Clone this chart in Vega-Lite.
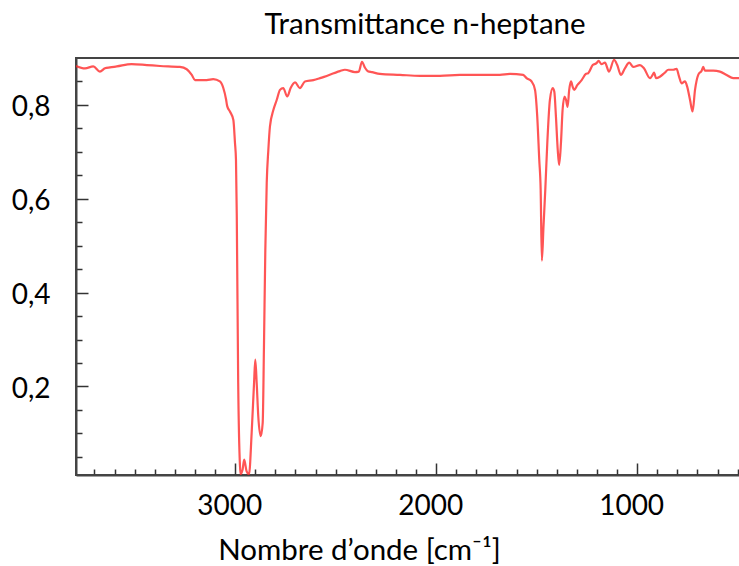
{
  "$schema": "https://vega.github.io/schema/vega-lite/v6.json",
  "width": 698,
  "height": 417,
  "autosize": {"type": "none"},
  "padding": {"left": 76, "top": 58, "right": 0, "bottom": 91},
  "background": "white",
  "title": {"text": "Transmittance n-heptane", "anchor": "middle", "font": "Lato", "fontSize": 29.5, "fontWeight": "normal", "color": "#000000", "baseline": "alphabetic", "offset": -5},
  "config": {
    "view": {"stroke": "#444444", "strokeWidth": 2},
    "font": "Lato"
  },
  "data": {"values": [
    {"wn": 3792, "t": 0.883}, {"wn": 3747, "t": 0.878}, {"wn": 3706, "t": 0.882}, {"wn": 3673, "t": 0.871},
    {"wn": 3648, "t": 0.878}, {"wn": 3623, "t": 0.880}, {"wn": 3589, "t": 0.882}, {"wn": 3515, "t": 0.887},
    {"wn": 3440, "t": 0.885}, {"wn": 3374, "t": 0.883}, {"wn": 3275, "t": 0.881}, {"wn": 3241, "t": 0.876},
    {"wn": 3216, "t": 0.864}, {"wn": 3200, "t": 0.853}, {"wn": 3142, "t": 0.853}, {"wn": 3109, "t": 0.855},
    {"wn": 3076, "t": 0.850}, {"wn": 3059, "t": 0.836}, {"wn": 3045, "t": 0.811}, {"wn": 3040, "t": 0.798},
    {"wn": 3026, "t": 0.786}, {"wn": 3009, "t": 0.768}, {"wn": 3001, "t": 0.719}, {"wn": 2996, "t": 0.683},
    {"wn": 2992, "t": 0.562}, {"wn": 2985, "t": 0.208}, {"wn": 2976, "t": 0.030}, {"wn": 2973, "t": 0.013},
    {"wn": 2963, "t": 0.023}, {"wn": 2955, "t": 0.044}, {"wn": 2943, "t": 0.019}, {"wn": 2931, "t": 0.013},
    {"wn": 2918, "t": 0.101}, {"wn": 2906, "t": 0.208}, {"wn": 2900, "t": 0.257}, {"wn": 2893, "t": 0.208},
    {"wn": 2885, "t": 0.136}, {"wn": 2873, "t": 0.094}, {"wn": 2863, "t": 0.123}, {"wn": 2857, "t": 0.278},
    {"wn": 2850, "t": 0.491}, {"wn": 2843, "t": 0.634}, {"wn": 2835, "t": 0.704}, {"wn": 2827, "t": 0.754},
    {"wn": 2810, "t": 0.789}, {"wn": 2793, "t": 0.811}, {"wn": 2777, "t": 0.832}, {"wn": 2761, "t": 0.836},
    {"wn": 2741, "t": 0.818}, {"wn": 2724, "t": 0.836}, {"wn": 2702, "t": 0.848}, {"wn": 2678, "t": 0.836},
    {"wn": 2653, "t": 0.850}, {"wn": 2611, "t": 0.853}, {"wn": 2578, "t": 0.857}, {"wn": 2479, "t": 0.872},
    {"wn": 2454, "t": 0.875}, {"wn": 2404, "t": 0.870}, {"wn": 2385, "t": 0.871}, {"wn": 2369, "t": 0.892},
    {"wn": 2355, "t": 0.880}, {"wn": 2340, "t": 0.872}, {"wn": 2319, "t": 0.870}, {"wn": 2280, "t": 0.866},
    {"wn": 2180, "t": 0.864}, {"wn": 2081, "t": 0.862}, {"wn": 1981, "t": 0.862}, {"wn": 1882, "t": 0.864},
    {"wn": 1782, "t": 0.864}, {"wn": 1683, "t": 0.864}, {"wn": 1633, "t": 0.866}, {"wn": 1567, "t": 0.864},
    {"wn": 1550, "t": 0.857}, {"wn": 1525, "t": 0.850}, {"wn": 1508, "t": 0.832}, {"wn": 1497, "t": 0.775},
    {"wn": 1487, "t": 0.683}, {"wn": 1480, "t": 0.619}, {"wn": 1474, "t": 0.468}, {"wn": 1466, "t": 0.540},
    {"wn": 1457, "t": 0.619}, {"wn": 1447, "t": 0.719}, {"wn": 1434, "t": 0.811}, {"wn": 1420, "t": 0.836},
    {"wn": 1412, "t": 0.828}, {"wn": 1404, "t": 0.775}, {"wn": 1395, "t": 0.704}, {"wn": 1388, "t": 0.672},
    {"wn": 1379, "t": 0.719}, {"wn": 1371, "t": 0.789}, {"wn": 1361, "t": 0.818}, {"wn": 1354, "t": 0.811},
    {"wn": 1346, "t": 0.796}, {"wn": 1338, "t": 0.832}, {"wn": 1329, "t": 0.850}, {"wn": 1321, "t": 0.839},
    {"wn": 1313, "t": 0.832}, {"wn": 1298, "t": 0.842}, {"wn": 1276, "t": 0.853}, {"wn": 1255, "t": 0.866},
    {"wn": 1243, "t": 0.868}, {"wn": 1221, "t": 0.885}, {"wn": 1202, "t": 0.889}, {"wn": 1192, "t": 0.894},
    {"wn": 1177, "t": 0.887}, {"wn": 1160, "t": 0.890}, {"wn": 1140, "t": 0.871}, {"wn": 1115, "t": 0.896},
    {"wn": 1099, "t": 0.885}, {"wn": 1081, "t": 0.864}, {"wn": 1061, "t": 0.878}, {"wn": 1039, "t": 0.890},
    {"wn": 1019, "t": 0.881}, {"wn": 986, "t": 0.885}, {"wn": 966, "t": 0.878}, {"wn": 936, "t": 0.857},
    {"wn": 923, "t": 0.864}, {"wn": 916, "t": 0.869}, {"wn": 906, "t": 0.857}, {"wn": 887, "t": 0.860},
    {"wn": 862, "t": 0.869}, {"wn": 845, "t": 0.875}, {"wn": 820, "t": 0.875}, {"wn": 804, "t": 0.877},
    {"wn": 791, "t": 0.860}, {"wn": 779, "t": 0.846}, {"wn": 762, "t": 0.850}, {"wn": 751, "t": 0.839},
    {"wn": 737, "t": 0.811}, {"wn": 724, "t": 0.786}, {"wn": 712, "t": 0.832}, {"wn": 696, "t": 0.864},
    {"wn": 679, "t": 0.873}, {"wn": 671, "t": 0.881}, {"wn": 663, "t": 0.873}, {"wn": 621, "t": 0.873},
    {"wn": 588, "t": 0.871}, {"wn": 555, "t": 0.864}, {"wn": 522, "t": 0.857}, {"wn": 494, "t": 0.857},
    {"wn": 450, "t": 0.857}, {"wn": 400, "t": 0.860}
  ]},
  "resolve": {"axis": {"x": "independent", "y": "independent"}},
  "layer": [
    {
      "mark": {"type": "line", "strokeOpacity": 0},
      "encoding": {
        "x": {"field": "wn", "type": "quantitative", "scale": {"domain": [319, 3792], "reverse": true, "nice": false, "zero": false},
              "axis": {"orient": "bottom", "values": [600, 700, 800, 900, 1100, 1200, 1300, 1400, 1500, 1600, 1700, 1800, 1900, 2100, 2200, 2300, 2400, 2500, 2600, 2700, 2800, 2900, 3100, 3200, 3300, 3400, 3500, 3600, 3700, 500],
                       "labels": false, "domain": false, "grid": false, "title": null, "tickSize": -6, "tickColor": "#333333", "tickWidth": 1.5}},
        "y": {"field": "t", "type": "quantitative", "scale": {"domain": [0.0113, 0.9], "nice": false, "zero": false},
              "axis": {"orient": "left", "values": [0.05, 0.1, 0.15, 0.25, 0.3, 0.35, 0.45, 0.5, 0.55, 0.65, 0.7, 0.75, 0.85],
                       "labels": false, "domain": false, "grid": false, "title": null, "tickSize": -6, "tickColor": "#333333", "tickWidth": 1.5}}
      }
    },
    {
      "mark": {"type": "line", "strokeOpacity": 0},
      "encoding": {
        "x": {"field": "wn", "type": "quantitative",
              "axis": {"orient": "bottom", "values": [1000, 2000, 3000], "labels": false, "domain": false, "grid": false, "title": null, "tickSize": -12, "tickColor": "#333333", "tickWidth": 1.5}},
        "y": {"field": "t", "type": "quantitative",
              "axis": {"orient": "left", "values": [0.2, 0.4, 0.6, 0.8], "labels": false, "domain": false, "grid": false, "title": null, "tickSize": -12, "tickColor": "#333333", "tickWidth": 1.5}}
      }
    },
    {
      "mark": {"type": "line", "color": "#ff2a2a", "strokeWidth": 2.2, "opacity": 0.8, "interpolate": "monotone", "clip": true},
      "encoding": {
        "x": {"field": "wn", "type": "quantitative",
              "axis": {"orient": "bottom", "values": [1000, 2000, 3000], "format": "d", "ticks": false, "grid": false,
                       "domain": true, "domainColor": "#444444", "domainWidth": 2,
                       "labelFont": "Lato", "labelFontSize": 28, "labelColor": "#000000", "labelPadding": 17, "labelOffset": -6,
                       "title": "Nombre d’onde [cm⁻¹]", "titleFont": "Lato", "titleFontSize": 29.5, "titleFontWeight": "normal", "titleColor": "#000000",
                       "titleX": 283, "titleY": 84, "titleAlign": "center", "titleBaseline": "alphabetic"}},
        "y": {"field": "t", "type": "quantitative",
              "axis": {"orient": "left", "values": [0.2, 0.4, 0.6, 0.8], "ticks": false, "grid": false,
                       "labelExpr": "replace(format(datum.value, '.1f'), '.', ',')",
                       "domain": true, "domainColor": "#444444", "domainWidth": 2,
                       "labelFont": "Lato", "labelFontSize": 28, "labelColor": "#000000", "labelPadding": 26, "labelOffset": 3,
                       "title": null}}
      }
    }
  ]
}
